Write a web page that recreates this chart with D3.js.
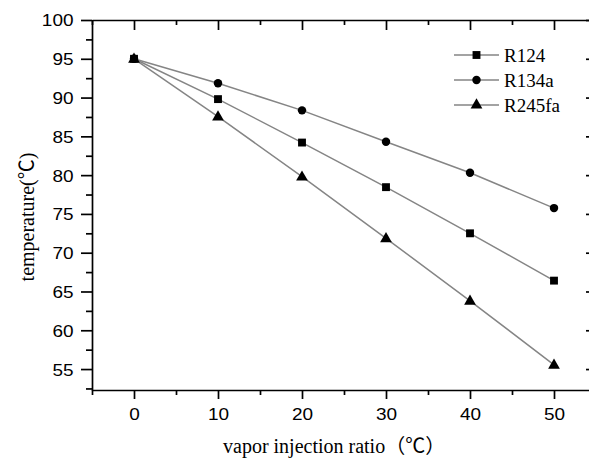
<!DOCTYPE html>
<html lang="en">
<head>
  <meta charset="UTF-8">
  <title>temperature vs vapor injection ratio</title>
  <script src="https://d3js.org/d3.v7.min.js"></script>
  <style>
    body { margin: 0; background: #fff; }
    .line { fill: none; stroke: #858585; stroke-width: 1.5; }
    .dot { fill: #000; }
    .axis path, .axis line { stroke: #000; stroke-width: 1.7; }
    .axis text { font-family: "Liberation Sans", Arial, sans-serif; font-size: 16.5px; fill: #000; }
    .title { font-family: "Liberation Serif", "Times New Roman", "Noto Sans CJK SC", serif; font-size: 20px; fill: #000; }
    .legend text { font-family: "Liberation Serif", "Times New Roman", serif; font-size: 19px; fill: #000; }
  </style>
</head>
<body>
  <script>
    // data
    const ratios = [0, 10, 20, 30, 40, 50];
    const r124 = [95, 89.8, 84.2, 78.45, 72.5, 66.4];
    const r134a = [95, 91.85, 88.35, 84.3, 80.3, 75.75];
    const r245fa = [95, 87.55, 79.8, 71.85, 63.8, 55.55];
    const seriesNames = ['R124', 'R134a', 'R245fa'];
    const xTicks = [0, 10, 20, 30, 40, 50];
    const yTicks = [55, 60, 65, 70, 75, 80, 85, 90, 95, 100];

    const W = 589, H = 465;
    const plotL = 92, plotR = 596, plotT = 20, plotB = 390;

    const x = d3.scaleLinear().domain([-5, 55]).range([plotL, plotR]);
    const y = d3.scaleLinear().domain([52.3, 100]).range([plotB, plotT]);

    const svg = d3.select('body').append('svg')
      .attr('width', W).attr('height', H);

    // minor ticks
    const xMinor = d3.range(-5, 56, 10);
    const yMinor = d3.range(52.5, 100, 5);

    // bottom axis
    const gx = svg.append('g').attr('class', 'axis')
      .attr('transform', `translate(0,${plotB})`)
      .call(d3.axisBottom(x).tickValues(xTicks).tickSize(9).tickSizeOuter(0));
    gx.selectAll('text').attr('y', 30).attr('dy', null)
      .attr('transform', 'scale(1.15,1)');
    svg.append('g').attr('class', 'axis')
      .attr('transform', `translate(0,${plotB})`)
      .call(d3.axisBottom(x).tickValues(xMinor).tickSize(5).tickSizeOuter(0).tickFormat(''))
      .select('.domain').remove();

    // top axis (ticks inward)
    svg.append('g').attr('class', 'axis')
      .attr('transform', `translate(0,${plotT})`)
      .call(d3.axisBottom(x).tickValues(xTicks).tickSize(10).tickSizeOuter(0).tickFormat(''));
    svg.append('g').attr('class', 'axis')
      .attr('transform', `translate(0,${plotT})`)
      .call(d3.axisBottom(x).tickValues(xMinor).tickSize(5).tickSizeOuter(0).tickFormat(''))
      .select('.domain').remove();

    // left axis
    const gy = svg.append('g').attr('class', 'axis')
      .attr('transform', `translate(${plotL},0)`)
      .call(d3.axisLeft(y).tickValues(yTicks).tickSize(11).tickSizeOuter(0));
    gy.selectAll('text').attr('x', 0).attr('dy', '0.36em')
      .attr('transform', 'translate(-18.5,0) scale(1.15,1)');
    svg.append('g').attr('class', 'axis')
      .attr('transform', `translate(${plotL},0)`)
      .call(d3.axisLeft(y).tickValues(yMinor).tickSize(6).tickSizeOuter(0).tickFormat(''))
      .select('.domain').remove();

    // right axis (ticks inward)
    svg.append('g').attr('class', 'axis')
      .attr('transform', `translate(${plotR},0)`)
      .call(d3.axisLeft(y).tickValues(yTicks).tickSize(10).tickSizeOuter(0).tickFormat(''));
    svg.append('g').attr('class', 'axis')
      .attr('transform', `translate(${plotR},0)`)
      .call(d3.axisLeft(y).tickValues(yMinor).tickSize(5).tickSizeOuter(0).tickFormat(''))
      .select('.domain').remove();

    // series
    const series = [r124, r134a, r245fa];
    const shapes = [d3.symbolSquare, d3.symbolCircle, d3.symbolTriangle];
    const sizes = [62, 56, 60];
    const line = d3.line().x((d, i) => x(ratios[i])).y(d => y(d));

    series.forEach((vals, k) => {
      svg.append('path').datum(vals).attr('class', 'line').attr('d', line);
      svg.selectAll('.dot' + k).data(vals).enter().append('path')
        .attr('class', 'dot dot' + k)
        .attr('transform', (d, i) => `translate(${x(ratios[i])},${y(d) + (k === 2 ? 0.5 : 0)})`)
        .attr('d', d3.symbol().type(shapes[k]).size(sizes[k]));
    });

    // legend
    const legend = svg.append('g').attr('class', 'legend');
    seriesNames.forEach((name, k) => {
      const ly = 55 + k * 25;
      legend.append('line').attr('class', 'line')
        .attr('x1', 454).attr('x2', 499).attr('y1', ly).attr('y2', ly);
      legend.append('path').attr('class', 'dot')
        .attr('transform', `translate(476.5,${ly})`)
        .attr('d', d3.symbol().type(shapes[k]).size(sizes[k]));
      legend.append('text').attr('x', 504).attr('y', ly + 7).text(name);
    });

    // axis titles
    svg.append('text').attr('class', 'title')
      .attr('x', 223).attr('y', 453)
      .text('vapor injection ratio（℃）');
    svg.append('text').attr('class', 'title')
      .attr('transform', 'translate(34,217) rotate(-90)')
      .attr('text-anchor', 'middle')
      .text('temperature(℃)');
  </script>
</body>
</html>
